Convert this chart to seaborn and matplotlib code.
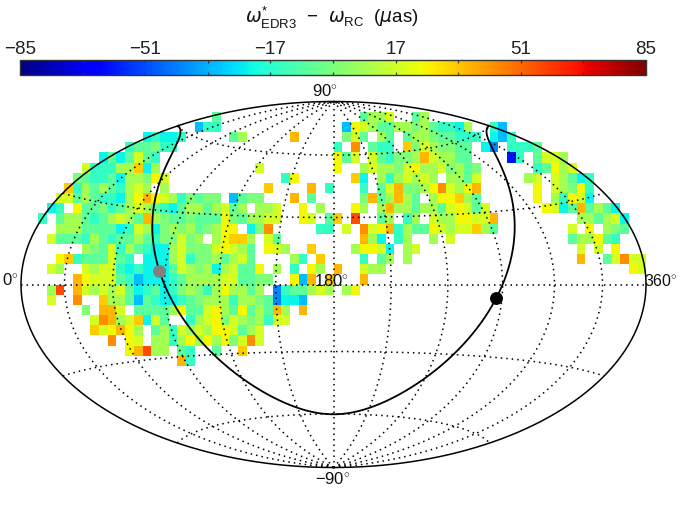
import numpy as np
import matplotlib
matplotlib.use("Agg")
import matplotlib.pyplot as plt
import seaborn as sns

# colour classes (micro-arcsec)
LEVELS = {'b': -61, 'B': -41, 'a': -32, 'c': -23, 't': -15, 'g': -6, 'h': 0,
          'l': 8, 'y': 18, 'Y': 25, 'o': 33, 'O': 37, 'd': 44, 'r': 56}

# sky cells: band number (+ above the equator, - below) -> (first column, classes)
BAND_17 = [(22, "g"), (39, "glly"), (45, "gl")]
BAND_16 = [(20, "att"), (37, "aYylggllhlgttcl"), (54, "ta")]
BAND_15 = [(14, "ctcct"), (24, "gl"), (31, "O"), (37, "hyg.lg.gllhggttt.cat")]
BAND_14 = [(12, "tgghtt"), (36, "t.d.gtt.ohylhhgg.cB.tttg")]
BAND_13 = [(9, "cgcgygt"), (36, "Ygy.ygthhlOyllgg"), (56, "bt.gyyl")]
BAND_12 = [(7, "ytttllocl"), (27, "y"), (36, "Y..lyllhyYllyhlgh"), (59, "tgYly")]
BAND_11 = [(6, "hgttgcllhYy"), (30, "tY"), (38, "oc.ltlylyl.llgy"), (58, "ly.ylgct")]
BAND_10 = [(5, "otlglgtlyl.l"), (28, "o"), (33, "O.t"), (39, "t.gyOhhlYdylYO"), (59, "Y.ylhYt")]
BAND_9 = [(4, "yyglgttclYOYylthghh"), (24, "aghh"), (31, "O.g"), (39, "hOgl"),
          (43, "Olg.lYYolg"), (59, "Y.ltYyc")]
BAND_8 = [(3, "ct.Ygghtglylgtcgllglygl"), (27, "lly"), (32, "Y.l"),
          (38, "Yl.lOllgllgyYygy"), (60, "YycgOglgc")]
BAND_7 = [(2, "t.gllgtglylgOlhgghgggYhgllyy"), (32, "Yy"), (35, "go.r"),
          (41, "gl.tl.yllYYyyO"), (64, "llglyc")]
BAND_6 = [(4, "lllggggctylchlhlghlYY.chd"), (34, "tt.y.dyYOtlggYylyyolg"), (63, "y.Y.lhg")]
BAND_5 = [(3, "ygggtlgtgglgthhyhl.lYool.yg"), (39, "Olc.tl..l.y"), (63, "gllYgt")]
BAND_4 = [(7, "lhgytlgtcclyhhhyYylg.Yyl"), (33, "o"), (38, "lYYyc.ly"), (64, "y.y.Y")]
BAND_3 = [(4, "Yotgggygt.ccclythhlglyg"), (31, "lt.o"), (39, "t.gl.l"), (64, "O..gydyy")]
BAND_2 = [(3, "yl"), (7, "ylyytctcccgylhlclyggY.l"), (31, "t.Yl.O"), (39, "yll"), (70, "Yy")]
BAND_1 = [(6, "OYyyygtaccctgllllyygghh"), (31, "YaO.o"), (39, "O")]
BAND_M1 = [(3, "lr.OylylygctgcthlhtlYllgl.Btgglyl.lY")]
BAND_M2 = [(3, "y"), (6, "d"), (9, "ollgagtcctghllltllhgBcca")]
BAND_M3 = [(7, "h"), (9, "OOy.gggglYggyYlgYglgOl.O")]
BAND_M4 = [(8, "ydOlyocyg..tlyYhylhltyy")]
BAND_M5 = [(8, "oyYOYl.gltylylYYygly")]
BAND_M6 = [(10, "d.Yy.lltlYlYlYhydy")]
BAND_M7 = [(12, "YOrll.gt"), (22, "g"), (25, "o")]
BAND_M8 = [(18, "Ot")]

BANDS = {17: BAND_17, 16: BAND_16, 15: BAND_15, 14: BAND_14, 13: BAND_13, 12: BAND_12,
         11: BAND_11, 10: BAND_10, 9: BAND_9, 8: BAND_8, 7: BAND_7, 6: BAND_6, 5: BAND_5,
         4: BAND_4, 3: BAND_3, 2: BAND_2, 1: BAND_1, -1: BAND_M1, -2: BAND_M2, -3: BAND_M3,
         -4: BAND_M4, -5: BAND_M5, -6: BAND_M6, -7: BAND_M7, -8: BAND_M8}

CBAR_LABELS = [-85, -51, -17, 17, 51, 85]
CBAR_MINOR = [-68, -34, 0, 34, 68]
GAL_CENTRE = (266.8, -5.6)
GAL_ANTICENTRE = (86.8, 5.6)
GAL_POLE_BETA = 29.8

NCOL, NROW = 72, 36
grid = np.full((NROW, NCOL), np.nan)
for band, runs in BANDS.items():
    row = 18 - band if band > 0 else 17 - band
    for start, codes in runs:
        for k, ch in enumerate(codes):
            if ch != '.':
                grid[row, start + k] = LEVELS[ch]

W, H = 680, 510
fig = plt.figure(figsize=(W / 100, H / 100), dpi=100, facecolor='white')
plt.rcParams['mathtext.fontset'] = 'custom'
plt.rcParams['mathtext.rm'] = 'Liberation Sans'
plt.rcParams['mathtext.it'] = 'DejaVu Sans:italic'
FONT = 'Liberation Sans'


def box(x0, y0, x1, y1):
    return [x0 / W, 1 - y1 / H, (x1 - x0) / W, (y1 - y0) / H]


ax = fig.add_axes(box(21, 102.5, 646, 468.5))
cax = fig.add_axes(box(20, 61, 646, 76))
sns.heatmap(grid, ax=ax, cmap='jet', vmin=-85, vmax=85, cbar=True, cbar_ax=cax,
            cbar_kws={'orientation': 'horizontal'}, xticklabels=False, yticklabels=False,
            linewidths=0, rasterized=False)
ax.set_axis_off()
ax.set_xlim(0, NCOL)
ax.set_ylim(NROW, 0)


def hammer(lon, lat):
    lam = np.radians(np.asarray(lon, float) - 180.0)
    phi = np.radians(np.asarray(lat, float))
    d = np.sqrt(1 + np.cos(phi) * np.cos(lam / 2))
    xn = np.cos(phi) * np.sin(lam / 2) / d
    yn = np.sin(phi) / d
    return NCOL / 2 * (1 + xn), NROW / 2 * (1 - yn)


dots = dict(color='black', lw=1.1, linestyle=(0, (1.0, 2.6)), dash_capstyle='butt', clip_on=False, zorder=3)
for lon in range(30, 360, 30):
    ax.plot(*hammer(np.full(300, lon), np.linspace(-90, 90, 300)), **dots)
for lat in (-60, -30, 0, 30, 60):
    ax.plot(*hammer(np.linspace(0, 360, 500), np.full(500, lat)), **dots)

# outline
ring = np.linspace(-90, 90, 400)
ax.plot(*hammer(np.zeros(400), ring), color='black', lw=1.1, clip_on=False, zorder=4)
ax.plot(*hammer(np.full(400, 360), ring), color='black', lw=1.1, clip_on=False, zorder=4)

# galactic plane in ecliptic coordinates
lam = np.linspace(0, 360, 721)
beta = np.degrees(np.arctan(np.cos(np.radians(lam)) / np.tan(np.radians(GAL_POLE_BETA))))
ax.plot(*hammer(lam, beta), color='black', lw=1.3, clip_on=False, zorder=5)
ax.plot(*hammer(*GAL_CENTRE), 'o', color='black', ms=9.3, mew=0, clip_on=False, zorder=6)
ax.plot(*hammer(*GAL_ANTICENTRE), 'o', color='#808080', ms=9.3, mew=0, clip_on=False, zorder=6)

# colour bar
cb = ax.collections[0].colorbar
cb.set_ticks(CBAR_LABELS)
cb.set_ticklabels([str(v).replace('-', '\u2212') for v in CBAR_LABELS], fontfamily=FONT, fontsize=13.5, color='#222222')
cb.ax.xaxis.set_ticks(CBAR_MINOR, minor=True)
cb.ax.tick_params(axis='x', which='both', direction='in', top=True, bottom=True, labeltop=True,
                  labelbottom=False, length=2.5, width=0.8, color='#333333', pad=2.5)
cb.outline.set_visible(True)
cb.outline.set_edgecolor('#333333')
cb.outline.set_linewidth(1.0)


def label(x, y, s, **kw):
    fig.text(x / W, 1 - y / H, s, ha='center', va='center', family=FONT, color='#111111', **kw)


label(332, 18, r'$\omega^{*}_{\mathrm{EDR3}}$  $-$  $\omega_{\mathrm{RC}}$  ($\mu$as)', fontsize=13.5)
label(325, 91.5, '90$^{\\circ}$', fontsize=12)
label(333, 480, '\u221290$^{\\circ}$', fontsize=12)
label(10, 281, '0$^{\\circ}$', fontsize=12)
label(661, 281, '360$^{\\circ}$', fontsize=11.5)
label(332, 282, '180$^{\\circ}$', fontsize=12, zorder=8)

fig.savefig('out.png', dpi=100)
